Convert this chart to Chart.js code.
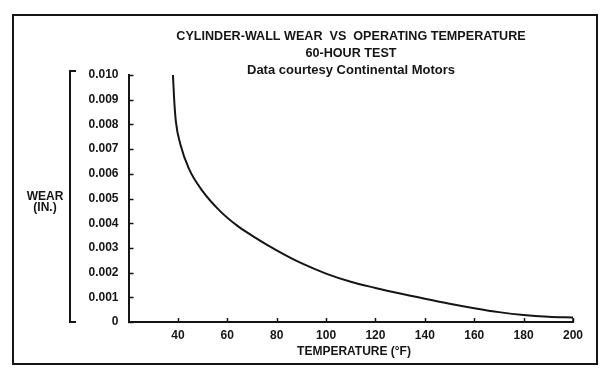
<!DOCTYPE html>
<html><head><meta charset="utf-8">
<script src="https://cdn.jsdelivr.net/npm/chart.js@4/dist/chart.umd.min.js"></script>
<style>html,body{margin:0;padding:0;background:#fff;}#wrap{position:relative;width:608px;height:377px;}</style>
</head><body><div id="wrap"><canvas id="c" width="608" height="377"></canvas></div>
<script>
// ---- data ----
const titleLines = ['CYLINDER-WALL WEAR  VS  OPERATING TEMPERATURE', '60-HOUR TEST', 'Data courtesy Continental Motors'];
const xAxisTitle = 'TEMPERATURE (\u00B0F)';
const yAxisTitle = ['WEAR', '(IN.)'];
const temperatures = [38, 38.5, 39.2, 41, 44.5, 50, 57, 64, 70, 80, 90, 100, 110, 120, 130, 140, 150, 160, 170, 180, 190, 200];
const wear = [0.0100, 0.0090, 0.0081, 0.0072, 0.0062, 0.0053, 0.0045, 0.0039, 0.0035, 0.0029, 0.00238, 0.00196, 0.00163, 0.00138, 0.00115, 0.00094, 0.00074, 0.00056, 0.00040, 0.00028, 0.00021, 0.00018];
const xTicks = [40, 60, 80, 100, 120, 140, 160, 180, 200];
const yTicks = [0, 0.001, 0.002, 0.003, 0.004, 0.005, 0.006, 0.007, 0.008, 0.009, 0.010];
const yTickLabels = ['0', '0.001', '0.002', '0.003', '0.004', '0.005', '0.006', '0.007', '0.008', '0.009', '0.010'];

const INK = '#151515';
const FONT = '"Liberation Sans", Arial, Helvetica, sans-serif';

const decor = {
  id: 'decor',
  afterDraw(chart) {
    const ctx = chart.ctx;
    const xs = chart.scales.x, ys = chart.scales.y;
    const area = chart.chartArea;
    ctx.save();
    ctx.strokeStyle = INK;
    ctx.fillStyle = INK;
    // frame
    ctx.lineWidth = 2;
    ctx.strokeRect(13, 15, 584, 349);
    // tick marks (inward)
    ctx.lineWidth = 1.5;
    ctx.beginPath();
    xTicks.forEach(v => {
      const px = Math.round(xs.getPixelForValue(v)) + 0.5;
      ctx.moveTo(px, area.bottom);
      ctx.lineTo(px, area.bottom - 4);
    });
    yTicks.forEach(v => {
      const py = Math.round(ys.getPixelForValue(v)) + 0.5;
      ctx.moveTo(area.left, py);
      ctx.lineTo(area.left + 5, py);
    });
    ctx.stroke();
    // y-title bracket
    ctx.lineWidth = 2;
    ctx.beginPath();
    ctx.moveTo(76, area.top - 4);
    ctx.lineTo(70, area.top - 4);
    ctx.lineTo(70, area.bottom);
    ctx.lineTo(76, area.bottom);
    ctx.stroke();
    // titles
    ctx.textAlign = 'center';
    ctx.textBaseline = 'middle';
    ctx.font = 'bold 12.6px ' + FONT;
    ctx.fillText(titleLines[0], 351, 37);
    ctx.fillText(titleLines[1], 351, 54);
    ctx.font = 'bold 13px ' + FONT;
    ctx.fillText(titleLines[2], 351, 70);
    // axis titles
    ctx.font = 'bold 12px ' + FONT;
    ctx.fillText(xAxisTitle, 354, 352);
    ctx.fillText(yAxisTitle[0], 45, 197);
    ctx.fillText(yAxisTitle[1], 45, 208);
    ctx.restore();
  }
};

const lastI = temperatures.length - 1;
new Chart(document.getElementById('c'), {
  type: 'line',
  data: {
    datasets: [{
      data: temperatures.map((t, i) => ({ x: t, y: wear[i] })),
      borderColor: INK, borderWidth: 2, pointRadius: 0, fill: false,
      cubicInterpolationMode: 'monotone'
    }, {
      data: [{ x: temperatures[lastI], y: wear[lastI] }, { x: temperatures[lastI], y: 0 }],
      borderColor: INK, borderWidth: 1.5, pointRadius: 0, fill: false, tension: 0
    }]
  },
  options: {
    responsive: false, animation: false, devicePixelRatio: 1,
    layout: { padding: { top: 75, right: 35, bottom: 0, left: 0 } },
    plugins: { legend: { display: false }, title: { display: false }, tooltip: { enabled: false } },
    scales: {
      x: {
        type: 'linear', min: 20, max: 200,
        afterBuildTicks: s => { s.ticks = xTicks.map(v => ({ value: v })); },
        afterFit: s => { s.height = 55; },
        grid: { display: false, drawTicks: false },
        border: { display: true, color: INK, width: 2 },
        ticks: { color: INK, font: { family: FONT, size: 12, weight: 'bold' }, padding: 6, maxRotation: 0, autoSkip: false }
      },
      y: {
        type: 'linear', min: 0, max: 0.010,
        afterBuildTicks: s => { s.ticks = yTicks.map(v => ({ value: v })); },
        afterFit: s => { s.width = 128.5; },
        grid: { display: false, drawTicks: false },
        border: { display: true, color: INK, width: 2 },
        ticks: { color: INK, font: { family: FONT, size: 12, weight: 'bold' }, padding: 10, autoSkip: false,
          callback: (v, i) => yTickLabels[i] }
      }
    }
  },
  plugins: [decor]
});
</script></body></html>
